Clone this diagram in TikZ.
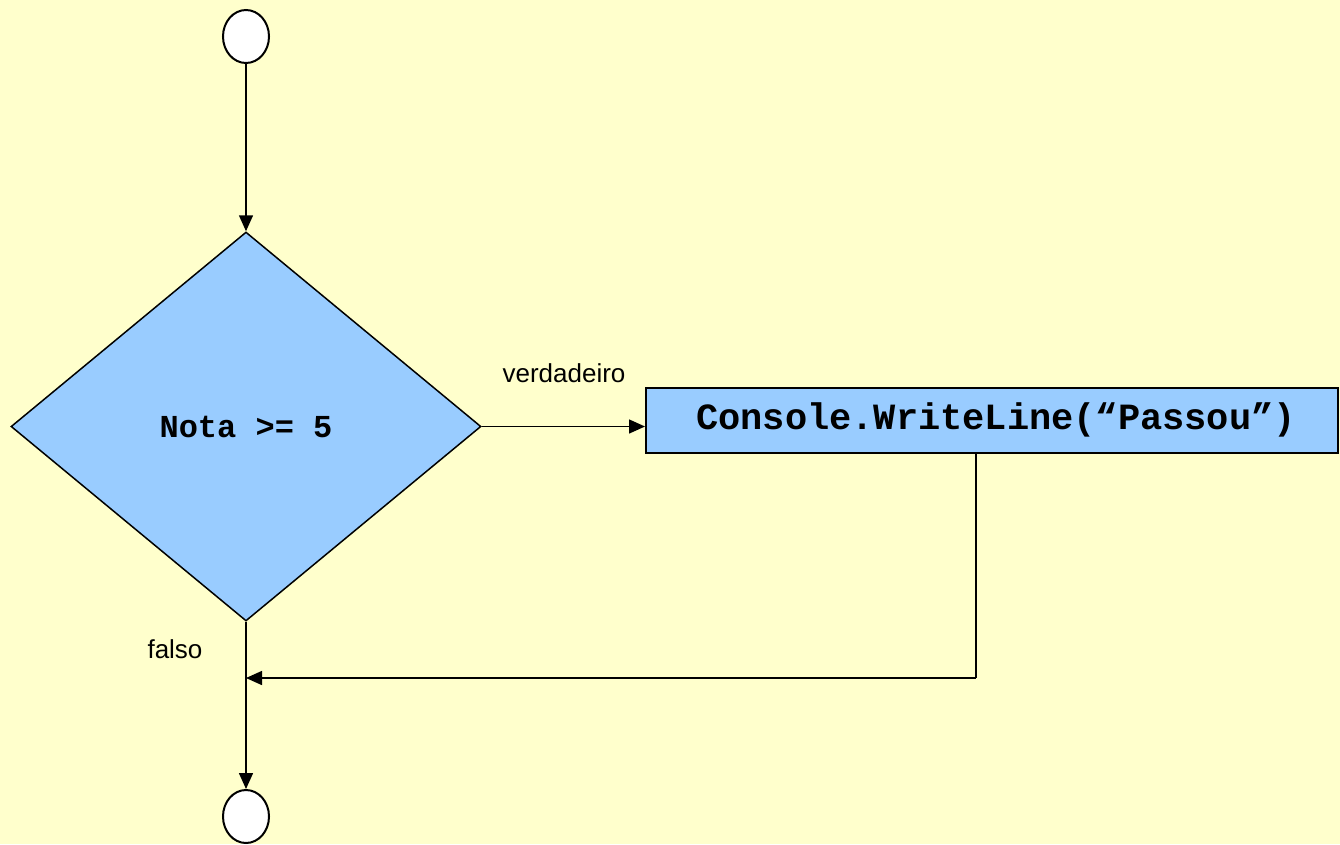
\documentclass[tikz,border=0pt]{standalone}
\usepackage{fontspec}
\setmainfont{Liberation Sans}
\newfontfamily\codefont{Liberation Mono}
\usetikzlibrary{shapes.geometric,arrows.meta}
\definecolor{paper}{HTML}{FFFFCC}
\definecolor{boxblue}{HTML}{99CCFF}
\tikzset{
  terminal/.style={ellipse, draw, line width=2pt, fill=white,
    minimum width=46pt, minimum height=53pt, inner sep=0pt},
  decision/.style={diamond, draw, line width=1.5pt, fill=boxblue,
    minimum width=470pt, minimum height=389pt, inner sep=0pt,
    font=\codefont\bfseries\fontsize{32}{36}\selectfont},
  action/.style={rectangle, draw, line width=2pt, fill=boxblue,
    minimum width=692pt, minimum height=65pt, inner sep=0pt,
    font=\codefont\bfseries\fontsize{37}{42}\selectfont},
  flow/.style={line width=1.5pt, -{Triangle[length=16pt,width=14pt]}},
  link/.style={line width=2pt},
  tag/.style={font=\fontsize{26}{30}\selectfont, inner sep=0pt},
}
\begin{document}
\begin{tikzpicture}[x=1pt, y=-1pt]
  \fill[paper] (0,0) rectangle (1340,844);
  \useasboundingbox (0,0) rectangle (1340,844);

  \node[terminal] (start) at (246,36.5) {};
  \node[decision] (test) at (246,426.5) {Nota >= 5};
  \node[action] (print) at (992,420) {\hspace{8pt}Console.WriteLine(“Passou”)};
  \node[terminal] (stop) at (246,816.5) {};

  \coordinate (merge) at (246,678);
  \coordinate (drop) at (976,678);

  \node[tag] (yes) at (564,373) {verdadeiro};
  \node[tag] (no) at (175,649) {falso};

  \draw[flow] (start) -- (test.north);
  \draw[flow] (test.east) -- (test.east -| print.west);
  \draw[link] (print.south -| drop) -- (drop);
  \draw[flow] (drop) -- (merge);
  \draw[flow] (test.south) -- (stop);
\end{tikzpicture}
\end{document}
